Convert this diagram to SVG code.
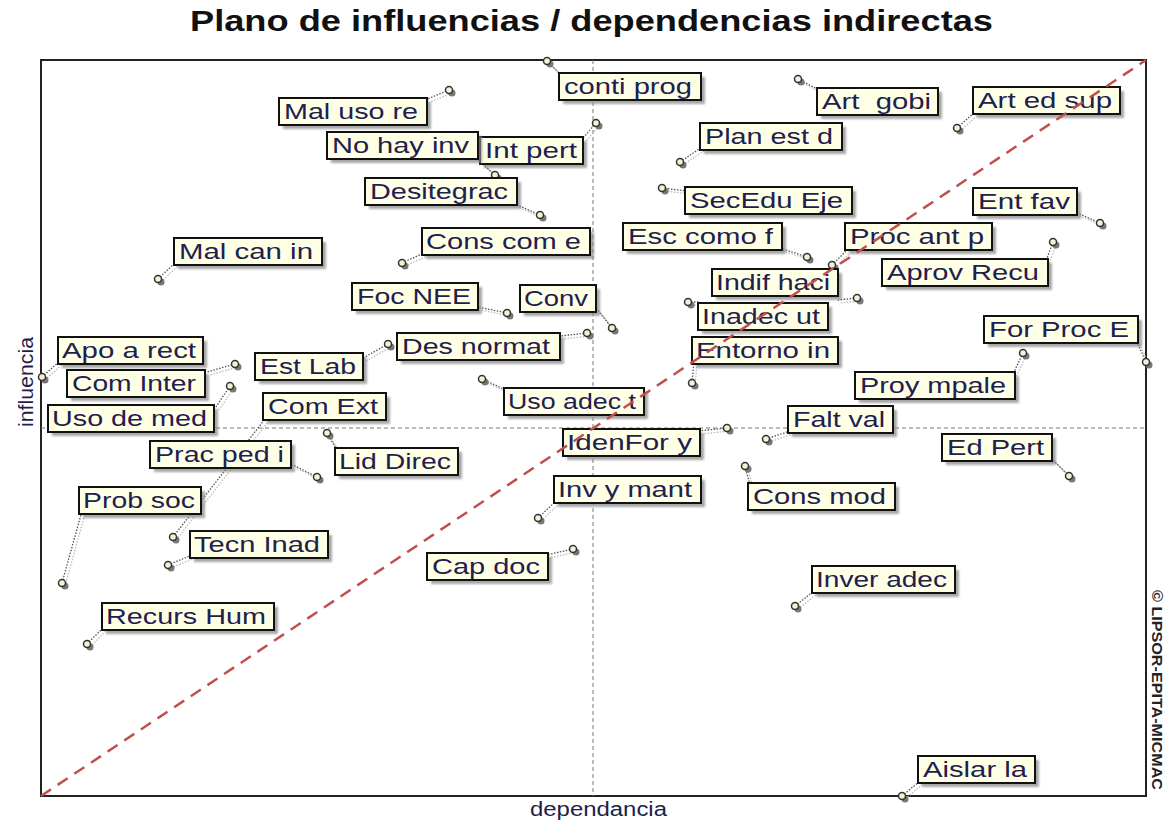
<svg xmlns="http://www.w3.org/2000/svg" width="1174" height="823" viewBox="0 0 1174 823">
<defs>
<filter id="blur" x="-20%" y="-20%" width="140%" height="140%"><feGaussianBlur stdDeviation="1.2"/></filter>
</defs>
<style>
.title{font-family:"Liberation Sans",Arial,sans-serif;font-size:29px;font-weight:bold;fill:#111;}
.axl{font-family:"Liberation Sans",Arial,sans-serif;font-size:20px;fill:#1e1e4a;}
.copy{font-family:"Liberation Sans",Arial,sans-serif;font-size:14px;font-weight:bold;fill:#222;}
.frame{fill:none;stroke:#222;stroke-width:2;}
.axis{stroke:#777;stroke-width:1;stroke-dasharray:4 3;fill:none;}
.diag{stroke:#c0504d;stroke-width:2.5;stroke-dasharray:12 8;fill:none;}
.sh{fill:#8a8a8a;opacity:0.75;filter:url(#blur);}
.box{fill:#ffffe6;stroke:#111;stroke-width:2;}
.lbl{font-family:"Liberation Sans",Arial,sans-serif;font-size:22px;fill:#20204e;}
.ld{stroke:#555;stroke-width:1.3;stroke-dasharray:1.5 1.5;fill:none;}
.lds{stroke:#bbb;stroke-width:1.3;stroke-dasharray:1.5 1.5;fill:none;}
.pt{fill:#f2f2d6;stroke:#333;stroke-width:1.5;}
.pts{fill:#777;}
</style>
<rect width="1174" height="823" fill="#fff"/>
<text class="title" x="190" y="31" textLength="803" lengthAdjust="spacingAndGlyphs">Plano de influencias / dependencias indirectas</text>
<rect class="frame" x="41" y="60" width="1105" height="736"/>
<line class="axis" x1="593" y1="60" x2="593" y2="796"/>
<line class="axis" x1="41" y1="428" x2="1146" y2="428"/>
<text class="axl" transform="translate(33,382) rotate(-90)" text-anchor="middle" textLength="90" lengthAdjust="spacingAndGlyphs">influencia</text>
<text class="axl" x="530" y="816" font-size="19" textLength="137" lengthAdjust="spacingAndGlyphs">dependancia</text>
<text class="copy" transform="translate(1152,590) rotate(90)" textLength="200" lengthAdjust="spacingAndGlyphs">© LIPSOR-EPITA-MICMAC</text>
<g id="connectors">
<g class="lds" transform="translate(3,3)">
<line x1="547" y1="61" x2="561" y2="75"/><line x1="449" y1="90" x2="425" y2="100"/><line x1="495" y1="175" x2="476" y2="158"/><line x1="596" y1="123" x2="583" y2="138"/><line x1="540" y1="215" x2="515" y2="204"/><line x1="402" y1="263" x2="424" y2="253"/><line x1="158" y1="279" x2="176" y2="262"/><line x1="680" y1="162" x2="702" y2="147"/><line x1="798" y1="79" x2="819" y2="90"/><line x1="662" y1="188" x2="687" y2="191"/><line x1="807" y1="257" x2="780" y2="248"/><line x1="957" y1="128" x2="975" y2="112"/><line x1="1100" y1="223" x2="1075" y2="212"/><line x1="832" y1="265" x2="847" y2="250"/><line x1="1053" y1="242" x2="1046" y2="261"/><line x1="857" y1="298" x2="838" y2="300"/><line x1="688" y1="302" x2="700" y2="302"/><line x1="692" y1="383" x2="694" y2="361"/><line x1="1146" y1="362" x2="1136" y2="340"/><line x1="1023" y1="353" x2="1013" y2="374"/><line x1="766" y1="439" x2="790" y2="431"/><line x1="727" y1="428" x2="698" y2="431"/><line x1="1069" y1="476" x2="1050" y2="457"/><line x1="745" y1="466" x2="750" y2="485"/><line x1="538" y1="518" x2="556" y2="501"/><line x1="573" y1="549" x2="546" y2="555"/><line x1="795" y1="606" x2="814" y2="591"/><line x1="902" y1="796" x2="920" y2="781"/><line x1="507" y1="313" x2="478" y2="307"/><line x1="612" y1="328" x2="596" y2="308"/><line x1="587" y1="333" x2="560" y2="336"/><line x1="388" y1="344" x2="363" y2="358"/><line x1="42" y1="377" x2="60" y2="361"/><line x1="235" y1="364" x2="207" y2="372"/><line x1="230" y1="386" x2="216" y2="407"/><line x1="173" y1="537" x2="265" y2="419"/><line x1="482" y1="379" x2="506" y2="390"/><line x1="317" y1="477" x2="293" y2="465"/><line x1="327" y1="433" x2="337" y2="450"/><line x1="62" y1="583" x2="82" y2="511"/><line x1="168" y1="565" x2="192" y2="555"/><line x1="87" y1="644" x2="104" y2="627"/>
</g>
<g class="ld">
<line x1="547" y1="61" x2="561" y2="75"/><line x1="449" y1="90" x2="425" y2="100"/><line x1="495" y1="175" x2="476" y2="158"/><line x1="596" y1="123" x2="583" y2="138"/><line x1="540" y1="215" x2="515" y2="204"/><line x1="402" y1="263" x2="424" y2="253"/><line x1="158" y1="279" x2="176" y2="262"/><line x1="680" y1="162" x2="702" y2="147"/><line x1="798" y1="79" x2="819" y2="90"/><line x1="662" y1="188" x2="687" y2="191"/><line x1="807" y1="257" x2="780" y2="248"/><line x1="957" y1="128" x2="975" y2="112"/><line x1="1100" y1="223" x2="1075" y2="212"/><line x1="832" y1="265" x2="847" y2="250"/><line x1="1053" y1="242" x2="1046" y2="261"/><line x1="857" y1="298" x2="838" y2="300"/><line x1="688" y1="302" x2="700" y2="302"/><line x1="692" y1="383" x2="694" y2="361"/><line x1="1146" y1="362" x2="1136" y2="340"/><line x1="1023" y1="353" x2="1013" y2="374"/><line x1="766" y1="439" x2="790" y2="431"/><line x1="727" y1="428" x2="698" y2="431"/><line x1="1069" y1="476" x2="1050" y2="457"/><line x1="745" y1="466" x2="750" y2="485"/><line x1="538" y1="518" x2="556" y2="501"/><line x1="573" y1="549" x2="546" y2="555"/><line x1="795" y1="606" x2="814" y2="591"/><line x1="902" y1="796" x2="920" y2="781"/><line x1="507" y1="313" x2="478" y2="307"/><line x1="612" y1="328" x2="596" y2="308"/><line x1="587" y1="333" x2="560" y2="336"/><line x1="388" y1="344" x2="363" y2="358"/><line x1="42" y1="377" x2="60" y2="361"/><line x1="235" y1="364" x2="207" y2="372"/><line x1="230" y1="386" x2="216" y2="407"/><line x1="173" y1="537" x2="265" y2="419"/><line x1="482" y1="379" x2="506" y2="390"/><line x1="317" y1="477" x2="293" y2="465"/><line x1="327" y1="433" x2="337" y2="450"/><line x1="62" y1="583" x2="82" y2="511"/><line x1="168" y1="565" x2="192" y2="555"/><line x1="87" y1="644" x2="104" y2="627"/>
</g>
</g>
<g id="points">
<g class="pts" transform="translate(3,3)">
<circle cx="547" cy="61" r="3.5"/><circle cx="449" cy="90" r="3.5"/><circle cx="495" cy="175" r="3.5"/><circle cx="596" cy="123" r="3.5"/><circle cx="540" cy="215" r="3.5"/><circle cx="402" cy="263" r="3.5"/><circle cx="158" cy="279" r="3.5"/><circle cx="680" cy="162" r="3.5"/><circle cx="798" cy="79" r="3.5"/><circle cx="662" cy="188" r="3.5"/><circle cx="807" cy="257" r="3.5"/><circle cx="957" cy="128" r="3.5"/><circle cx="1100" cy="223" r="3.5"/><circle cx="832" cy="265" r="3.5"/><circle cx="1053" cy="242" r="3.5"/><circle cx="857" cy="298" r="3.5"/><circle cx="688" cy="302" r="3.5"/><circle cx="692" cy="383" r="3.5"/><circle cx="1146" cy="362" r="3.5"/><circle cx="1023" cy="353" r="3.5"/><circle cx="766" cy="439" r="3.5"/><circle cx="727" cy="428" r="3.5"/><circle cx="1069" cy="476" r="3.5"/><circle cx="745" cy="466" r="3.5"/><circle cx="538" cy="518" r="3.5"/><circle cx="573" cy="549" r="3.5"/><circle cx="795" cy="606" r="3.5"/><circle cx="902" cy="796" r="3.5"/><circle cx="507" cy="313" r="3.5"/><circle cx="612" cy="328" r="3.5"/><circle cx="587" cy="333" r="3.5"/><circle cx="388" cy="344" r="3.5"/><circle cx="42" cy="377" r="3.5"/><circle cx="235" cy="364" r="3.5"/><circle cx="230" cy="386" r="3.5"/><circle cx="173" cy="537" r="3.5"/><circle cx="482" cy="379" r="3.5"/><circle cx="317" cy="477" r="3.5"/><circle cx="327" cy="433" r="3.5"/><circle cx="62" cy="583" r="3.5"/><circle cx="168" cy="565" r="3.5"/><circle cx="87" cy="644" r="3.5"/>
</g>
<g class="pt">
<circle cx="547" cy="61" r="3.5"/><circle cx="449" cy="90" r="3.5"/><circle cx="495" cy="175" r="3.5"/><circle cx="596" cy="123" r="3.5"/><circle cx="540" cy="215" r="3.5"/><circle cx="402" cy="263" r="3.5"/><circle cx="158" cy="279" r="3.5"/><circle cx="680" cy="162" r="3.5"/><circle cx="798" cy="79" r="3.5"/><circle cx="662" cy="188" r="3.5"/><circle cx="807" cy="257" r="3.5"/><circle cx="957" cy="128" r="3.5"/><circle cx="1100" cy="223" r="3.5"/><circle cx="832" cy="265" r="3.5"/><circle cx="1053" cy="242" r="3.5"/><circle cx="857" cy="298" r="3.5"/><circle cx="688" cy="302" r="3.5"/><circle cx="692" cy="383" r="3.5"/><circle cx="1146" cy="362" r="3.5"/><circle cx="1023" cy="353" r="3.5"/><circle cx="766" cy="439" r="3.5"/><circle cx="727" cy="428" r="3.5"/><circle cx="1069" cy="476" r="3.5"/><circle cx="745" cy="466" r="3.5"/><circle cx="538" cy="518" r="3.5"/><circle cx="573" cy="549" r="3.5"/><circle cx="795" cy="606" r="3.5"/><circle cx="902" cy="796" r="3.5"/><circle cx="507" cy="313" r="3.5"/><circle cx="612" cy="328" r="3.5"/><circle cx="587" cy="333" r="3.5"/><circle cx="388" cy="344" r="3.5"/><circle cx="42" cy="377" r="3.5"/><circle cx="235" cy="364" r="3.5"/><circle cx="230" cy="386" r="3.5"/><circle cx="173" cy="537" r="3.5"/><circle cx="482" cy="379" r="3.5"/><circle cx="317" cy="477" r="3.5"/><circle cx="327" cy="433" r="3.5"/><circle cx="62" cy="583" r="3.5"/><circle cx="168" cy="565" r="3.5"/><circle cx="87" cy="644" r="3.5"/>
</g>
</g>
<g id="n-conti-prog"><rect class="sh" x="563" y="77" width="142" height="27"/><rect class="box" x="559" y="73" width="142" height="27"/><text class="lbl" x="564" y="94" textLength="128" lengthAdjust="spacingAndGlyphs">conti prog</text></g>
<g id="n-mal-uso-re"><rect class="sh" x="283" y="102" width="148" height="27"/><rect class="box" x="279" y="98" width="148" height="27"/><text class="lbl" x="284" y="119" textLength="134" lengthAdjust="spacingAndGlyphs">Mal uso re</text></g>
<g id="n-int-pert"><rect class="sh" x="484" y="141" width="103" height="27"/><rect class="box" x="480" y="137" width="103" height="27"/><text class="lbl" x="485" y="158" textLength="92" lengthAdjust="spacingAndGlyphs">Int pert</text></g>
<g id="n-no-hay-inv"><rect class="sh" x="331" y="136" width="151" height="27"/><rect class="box" x="327" y="132" width="151" height="27"/><text class="lbl" x="332" y="153" textLength="137" lengthAdjust="spacingAndGlyphs">No hay inv</text></g>
<g id="n-desitegrac"><rect class="sh" x="369" y="182" width="152" height="27"/><rect class="box" x="365" y="178" width="152" height="27"/><text class="lbl" x="370" y="199" textLength="138" lengthAdjust="spacingAndGlyphs">Desitegrac</text></g>
<g id="n-cons-com-e"><rect class="sh" x="426" y="232" width="168" height="27"/><rect class="box" x="422" y="228" width="168" height="27"/><text class="lbl" x="426" y="249" textLength="155" lengthAdjust="spacingAndGlyphs">Cons com e</text></g>
<g id="n-mal-can-in"><rect class="sh" x="178" y="242" width="148" height="27"/><rect class="box" x="174" y="238" width="148" height="27"/><text class="lbl" x="179" y="259" textLength="134" lengthAdjust="spacingAndGlyphs">Mal can in</text></g>
<g id="n-plan-est-d"><rect class="sh" x="704" y="127" width="142" height="27"/><rect class="box" x="700" y="123" width="142" height="27"/><text class="lbl" x="705" y="144" textLength="128" lengthAdjust="spacingAndGlyphs">Plan est d</text></g>
<g id="n-art-gobi"><rect class="sh" x="821" y="92" width="121" height="27"/><rect class="box" x="817" y="88" width="121" height="27"/><text class="lbl" x="822" y="109" textLength="109" lengthAdjust="spacingAndGlyphs" xml:space="preserve">Art  gobi</text></g>
<g id="n-art-ed-sup"><rect class="sh" x="977" y="91" width="147" height="27"/><rect class="box" x="973" y="87" width="147" height="27"/><text class="lbl" x="978" y="108" textLength="134" lengthAdjust="spacingAndGlyphs">Art ed sup</text></g>
<g id="n-secedu-eje"><rect class="sh" x="689" y="191" width="167" height="27"/><rect class="box" x="685" y="187" width="167" height="27"/><text class="lbl" x="690" y="208" textLength="153" lengthAdjust="spacingAndGlyphs">SecEdu Eje</text></g>
<g id="n-esc-como-f"><rect class="sh" x="627" y="227" width="159" height="27"/><rect class="box" x="623" y="223" width="159" height="27"/><text class="lbl" x="628" y="244" textLength="145" lengthAdjust="spacingAndGlyphs">Esc como f</text></g>
<g id="n-ent-fav"><rect class="sh" x="977" y="192" width="104" height="27"/><rect class="box" x="973" y="188" width="104" height="27"/><text class="lbl" x="978" y="209" textLength="92" lengthAdjust="spacingAndGlyphs">Ent fav</text></g>
<g id="n-proc-ant-p"><rect class="sh" x="849" y="227" width="147" height="27"/><rect class="box" x="845" y="223" width="147" height="27"/><text class="lbl" x="850" y="244" textLength="134" lengthAdjust="spacingAndGlyphs">Proc ant p</text></g>
<g id="n-aprov-recu"><rect class="sh" x="886" y="263" width="166" height="27"/><rect class="box" x="882" y="259" width="166" height="27"/><text class="lbl" x="887" y="280" textLength="152" lengthAdjust="spacingAndGlyphs">Aprov Recu</text></g>
<g id="n-indif-haci"><rect class="sh" x="716" y="273" width="126" height="27"/><rect class="box" x="712" y="269" width="126" height="27"/><text class="lbl" x="716" y="290" textLength="114" lengthAdjust="spacingAndGlyphs">Indif haci</text></g>
<g id="n-inadec-ut"><rect class="sh" x="702" y="307" width="130" height="27"/><rect class="box" x="698" y="303" width="130" height="27"/><text class="lbl" x="702" y="324" textLength="118" lengthAdjust="spacingAndGlyphs">Inadec ut</text></g>
<g id="n-entorno-in"><rect class="sh" x="696" y="341" width="146" height="27"/><rect class="box" x="692" y="337" width="146" height="27"/><text class="lbl" x="696" y="358" textLength="134" lengthAdjust="spacingAndGlyphs">Entorno in</text></g>
<g id="n-for-proc-e"><rect class="sh" x="988" y="320" width="154" height="27"/><rect class="box" x="984" y="316" width="154" height="27"/><text class="lbl" x="989" y="337" textLength="140" lengthAdjust="spacingAndGlyphs">For Proc E</text></g>
<g id="n-proy-mpale"><rect class="sh" x="859" y="376" width="160" height="27"/><rect class="box" x="855" y="372" width="160" height="27"/><text class="lbl" x="860" y="393" textLength="146" lengthAdjust="spacingAndGlyphs">Proy mpale</text></g>
<g id="n-falt-val"><rect class="sh" x="792" y="410" width="105" height="27"/><rect class="box" x="788" y="406" width="105" height="27"/><text class="lbl" x="793" y="427" textLength="92" lengthAdjust="spacingAndGlyphs">Falt val</text></g>
<g id="n-idenfor-y"><rect class="sh" x="567" y="433" width="137" height="27"/><rect class="box" x="563" y="429" width="137" height="27"/><text class="lbl" x="567" y="450" textLength="125" lengthAdjust="spacingAndGlyphs">IdenFor y</text></g>
<g id="n-ed-pert"><rect class="sh" x="946" y="438" width="110" height="27"/><rect class="box" x="942" y="434" width="110" height="27"/><text class="lbl" x="947" y="455" textLength="97" lengthAdjust="spacingAndGlyphs">Ed Pert</text></g>
<g id="n-cons-mod"><rect class="sh" x="752" y="487" width="147" height="27"/><rect class="box" x="748" y="483" width="147" height="27"/><text class="lbl" x="753" y="504" textLength="133" lengthAdjust="spacingAndGlyphs">Cons mod</text></g>
<g id="n-inv-y-mant"><rect class="sh" x="558" y="480" width="147" height="27"/><rect class="box" x="554" y="476" width="147" height="27"/><text class="lbl" x="558" y="497" textLength="134" lengthAdjust="spacingAndGlyphs">Inv y mant</text></g>
<g id="n-cap-doc"><rect class="sh" x="431" y="557" width="121" height="27"/><rect class="box" x="427" y="553" width="121" height="27"/><text class="lbl" x="432" y="574" textLength="108" lengthAdjust="spacingAndGlyphs">Cap doc</text></g>
<g id="n-inver-adec"><rect class="sh" x="816" y="570" width="143" height="27"/><rect class="box" x="812" y="566" width="143" height="27"/><text class="lbl" x="816" y="587" textLength="131" lengthAdjust="spacingAndGlyphs">Inver adec</text></g>
<g id="n-aislar-la"><rect class="sh" x="922" y="760" width="117" height="27"/><rect class="box" x="918" y="756" width="117" height="27"/><text class="lbl" x="923" y="777" textLength="104" lengthAdjust="spacingAndGlyphs">Aislar la</text></g>
<g id="n-foc-nee"><rect class="sh" x="356" y="287" width="126" height="27"/><rect class="box" x="352" y="283" width="126" height="27"/><text class="lbl" x="357" y="304" textLength="114" lengthAdjust="spacingAndGlyphs">Foc NEE</text></g>
<g id="n-conv"><rect class="sh" x="524" y="289" width="76" height="27"/><rect class="box" x="520" y="285" width="76" height="27"/><text class="lbl" x="524" y="306" textLength="64" lengthAdjust="spacingAndGlyphs">Conv</text></g>
<g id="n-des-normat"><rect class="sh" x="401" y="337" width="163" height="27"/><rect class="box" x="397" y="333" width="163" height="27"/><text class="lbl" x="402" y="354" textLength="148" lengthAdjust="spacingAndGlyphs">Des normat</text></g>
<g id="n-est-lab"><rect class="sh" x="259" y="357" width="108" height="27"/><rect class="box" x="255" y="353" width="108" height="27"/><text class="lbl" x="260" y="374" textLength="96" lengthAdjust="spacingAndGlyphs">Est Lab</text></g>
<g id="n-apo-a-rect"><rect class="sh" x="62" y="341" width="145" height="27"/><rect class="box" x="58" y="337" width="145" height="27"/><text class="lbl" x="62" y="358" textLength="134" lengthAdjust="spacingAndGlyphs">Apo a rect</text></g>
<g id="n-com-inter"><rect class="sh" x="71" y="374" width="138" height="27"/><rect class="box" x="67" y="370" width="138" height="27"/><text class="lbl" x="72" y="391" textLength="124" lengthAdjust="spacingAndGlyphs">Com Inter</text></g>
<g id="n-uso-de-med"><rect class="sh" x="52" y="409" width="166" height="27"/><rect class="box" x="48" y="405" width="166" height="27"/><text class="lbl" x="52" y="426" textLength="155" lengthAdjust="spacingAndGlyphs">Uso de med</text></g>
<g id="n-com-ext"><rect class="sh" x="267" y="397" width="123" height="27"/><rect class="box" x="263" y="393" width="123" height="27"/><text class="lbl" x="268" y="414" textLength="110" lengthAdjust="spacingAndGlyphs">Com Ext</text></g>
<g id="n-uso-adec-t"><rect class="sh" x="508" y="392" width="140" height="27"/><rect class="box" x="504" y="388" width="140" height="27"/><text class="lbl" x="508" y="409" textLength="128" lengthAdjust="spacingAndGlyphs">Uso adec t</text></g>
<g id="n-prac-ped-i"><rect class="sh" x="154" y="445" width="141" height="27"/><rect class="box" x="150" y="441" width="141" height="27"/><text class="lbl" x="155" y="462" textLength="129" lengthAdjust="spacingAndGlyphs">Prac ped i</text></g>
<g id="n-lid-direc"><rect class="sh" x="339" y="452" width="123" height="27"/><rect class="box" x="335" y="448" width="123" height="27"/><text class="lbl" x="339" y="469" textLength="112" lengthAdjust="spacingAndGlyphs">Lid Direc</text></g>
<g id="n-prob-soc"><rect class="sh" x="83" y="491" width="122" height="27"/><rect class="box" x="79" y="487" width="122" height="27"/><text class="lbl" x="83" y="508" textLength="112" lengthAdjust="spacingAndGlyphs">Prob soc</text></g>
<g id="n-tecn-inad"><rect class="sh" x="194" y="535" width="138" height="27"/><rect class="box" x="190" y="531" width="138" height="27"/><text class="lbl" x="194" y="552" textLength="126" lengthAdjust="spacingAndGlyphs">Tecn Inad</text></g>
<g id="n-recurs-hum"><rect class="sh" x="106" y="607" width="172" height="27"/><rect class="box" x="102" y="603" width="172" height="27"/><text class="lbl" x="106" y="624" textLength="160" lengthAdjust="spacingAndGlyphs">Recurs Hum</text></g>
<line class="diag" x1="41" y1="796" x2="1146" y2="60"/>
</svg>
